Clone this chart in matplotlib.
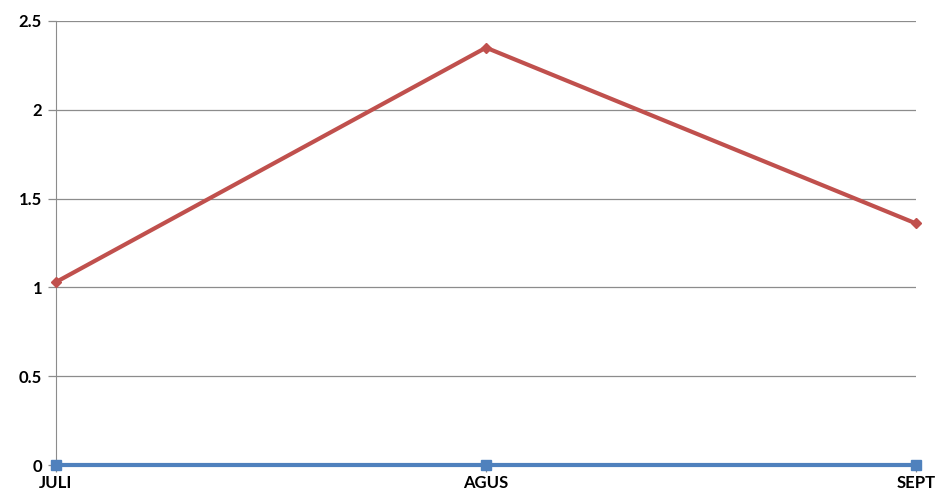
import matplotlib.pyplot as plt

# data
months = ["JULI", "AGUS", "SEPT"]
red_series = [1.03, 2.35, 1.36]
blue_series = [0, 0, 0]
y_ticks = [0, 0.5, 1, 1.5, 2, 2.5]
y_labels = ["0", "0.5", "1", "1.5", "2", "2.5"]

plt.rcParams['font.family'] = ['Lato', 'DejaVu Sans']

fig = plt.figure(figsize=(9.42, 4.97), dpi=100)
ax = fig.add_axes([56 / 942, 32 / 497, 860 / 942, 444 / 497])

x = list(range(len(months)))
ax.plot(x, red_series, color="#c0504d", linewidth=3, marker="D", markersize=5,
        zorder=3, clip_on=False)
ax.plot(x, blue_series, color="#4f81bd", linewidth=3, marker="s", markersize=7,
        zorder=3, clip_on=False)

ax.set_xlim(0, len(months) - 1)
ax.set_ylim(0, 2.5)
ax.set_xticks(x)
ax.set_xticklabels(months, fontsize=12, fontweight="bold")
ax.set_yticks(y_ticks)
ax.set_yticklabels(y_labels, fontsize=12, fontweight="bold")

ax.grid(axis="y", color="#8c8c8c", linewidth=0.9)
ax.set_axisbelow(True)
ax.tick_params(axis="y", length=6, color="#8c8c8c", width=0.9, pad=4)
ax.tick_params(axis="x", length=5, color="#8c8c8c", width=0.9, pad=2)

for side in ["top", "right"]:
    ax.spines[side].set_visible(False)
ax.spines["left"].set_color("#8c8c8c")
ax.spines["bottom"].set_color("#8c8c8c")

fig.savefig("out.png", dpi=100)
